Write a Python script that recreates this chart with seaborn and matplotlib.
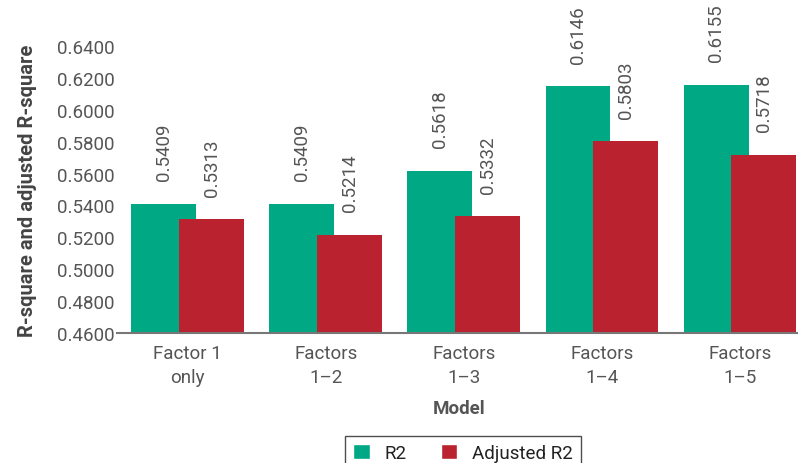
import pandas as pd
import matplotlib.pyplot as plt
import seaborn as sns

# values
models = ['Factor 1\nonly', 'Factors\n1–2', 'Factors\n1–3', 'Factors\n1–4', 'Factors\n1–5']
r2 = [0.5409, 0.5409, 0.5618, 0.6146, 0.6155]
adj_r2 = [0.5313, 0.5214, 0.5332, 0.5803, 0.5718]
series = ['R2', 'Adjusted R2']
yticks = [0.46, 0.48, 0.50, 0.52, 0.54, 0.56, 0.58, 0.60, 0.62, 0.64]

df = pd.DataFrame({
    'Model': models * 2,
    'Value': r2 + adj_r2,
    'Series': [series[0]] * len(models) + [series[1]] * len(models),
})

sns.set_theme(style="white")
plt.rcParams['font.family'] = ['Roboto', 'DejaVu Sans']

fig = plt.figure(figsize=(7.98, 4.64), dpi=100)
ax = fig.add_axes([120 / 798, 130 / 464, 678 / 798, 287 / 464])

palette = {'R2': '#00a884', 'Adjusted R2': '#ba2230'}
sns.barplot(data=df, x='Model', y='Value', hue='Series', palette=palette,
            width=0.94, dodge=True, ax=ax, saturation=1, legend=True)

# overlap the bars of a group a little (red drawn on top of green)
shift = {0: 0.062, 1: -0.062}
for i, cont in enumerate(ax.containers):
    for p in cont:
        p.set_x(p.get_x() + shift[i])
        p.set_linewidth(0)
    ax.bar_label(cont, fmt='%.4f', rotation=90, padding=17, fontsize=13.5,
                 color='#555555', clip_on=False)

ax.set_ylim(0.46, 0.64)
ax.set_xlim(-0.49, 4.42)
ax.set_yticks(yticks)
ax.set_yticklabels([f'{t:.4f}' for t in yticks])
ax.tick_params(axis='both', labelsize=13.5, colors='#555555', length=0, pad=4)
ax.tick_params(axis='x', pad=8)
for t in ax.get_xticklabels():
    t.set_linespacing(1.45)

ax.set_xlabel('Model', fontsize=13.5, fontweight='bold', color='#555555', labelpad=9)
ax.set_ylabel('R-square and adjusted R-square', fontsize=14.5, fontweight='bold',
              color='#444444', labelpad=14)

for s in ['top', 'right', 'left']:
    ax.spines[s].set_visible(False)
ax.spines['bottom'].set_color('#777777')
ax.spines['bottom'].set_linewidth(1.5)
ax.spines['bottom'].set_bounds(-0.51, 4.42)
ax.spines['bottom'].set_clip_on(False)

handles, labels = ax.get_legend_handles_labels()
ax.legend(handles, labels, loc='upper center', bbox_to_anchor=(463 / 798, 36 / 464),
          bbox_transform=fig.transFigure, ncol=2, frameon=True, fancybox=False,
          edgecolor='#222222', fontsize=13.5, handlelength=0.9, handleheight=0.9,
          columnspacing=1.8, borderpad=0.4, labelcolor='#222222')

fig.savefig('out.png', dpi=100)
